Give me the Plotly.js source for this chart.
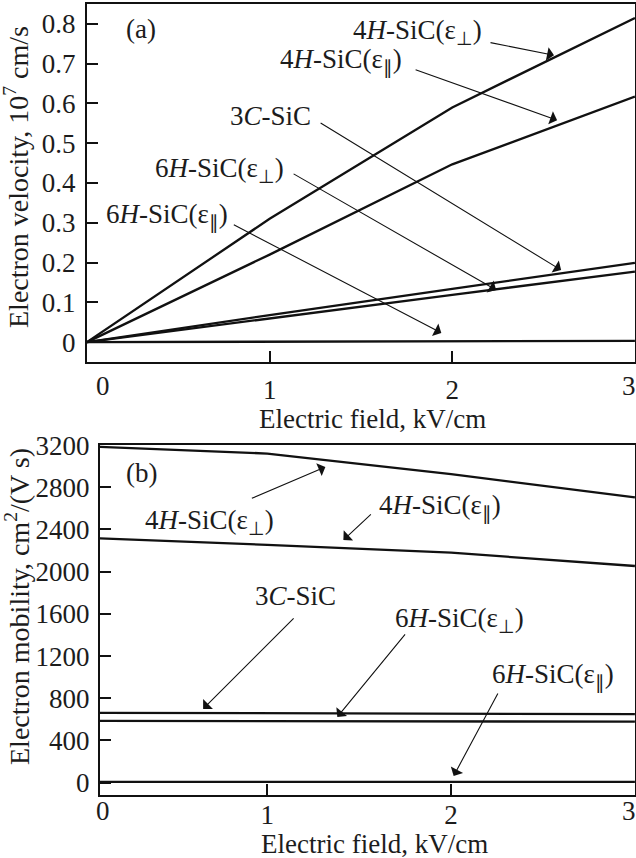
<!DOCTYPE html>
<html>
<head>
<meta charset="utf-8">
<script src="https://cdn.plot.ly/plotly-3.0.1.min.js"></script>
<style>
  html, body { margin: 0; padding: 0; background: #fff; }
  #chart { width: 636px; height: 858px; }
</style>
</head>
<body>
<div id="chart"></div>
<script>
// Electric field, kV/cm
const field = [0, 1, 2, 3];

// (a) Electron drift velocity, 10^7 cm/s
const v4Hperp = [0, 0.31, 0.59, 0.815];
const v4Hpar  = [0, 0.22, 0.447, 0.617];
const v3C     = [0, 0.068, 0.134, 0.199];
const v6Hperp = [0, 0.06, 0.119, 0.177];
const v6Hpar  = [0, 0.001, 0.002, 0.003];

// (b) Electron mobility, cm^2/(V s)
const mu4Hperp = [3190, 3120, 2925, 2705];
const mu4Hpar  = [2322, 2255, 2180, 2054];
const mu3C     = [662, 658, 654, 650];
const mu6Hperp = [586, 583, 580, 578];
const mu6Hpar  = [8, 8, 8, 8];

// Polytype labels
const lab4Hperp = '4<i>H</i>-SiC(ε<sub>⊥</sub>)';
const lab4Hpar  = '4<i>H</i>-SiC(ε<sub>∥</sub>)';
const lab3C     = '3<i>C</i>-SiC';
const lab6Hperp = '6<i>H</i>-SiC(ε<sub>⊥</sub>)';
const lab6Hpar  = '6<i>H</i>-SiC(ε<sub>∥</sub>)';

// Tick values; the end labels of the field axes sit beside the frame corners
const xTicks    = [1, 2, 3];
const xTickText = ['1', '2', ''];
const yTicksA = [0, 0.1, 0.2, 0.3, 0.4, 0.5, 0.6, 0.7, 0.8];
const yTicksB = [0, 400, 800, 1200, 1600, 2000, 2400, 2800, 3200];

const W = 636, H = 858;
const PX = p => p / W;          // pixel column -> paper x
const PY = p => 1 - p / H;      // pixel row -> paper y

const FONT = 'Liberation Serif, Times New Roman, serif';
const INK = '#1c1c1c';
const FS = 27;

function line(x, y, xa, ya) {
  return { x: x, y: y, xaxis: xa, yaxis: ya, mode: 'lines', type: 'scatter',
           line: { color: '#111', width: 2.3 }, hoverinfo: 'skip', showlegend: false };
}

const traces = [
  line(field, v4Hperp, 'x', 'y'),
  line(field, v4Hpar,  'x', 'y'),
  line(field, v3C,     'x', 'y'),
  line(field, v6Hperp, 'x', 'y'),
  line(field, v6Hpar,  'x', 'y'),
  line(field, mu4Hperp, 'x2', 'y2'),
  line(field, mu4Hpar,  'x2', 'y2'),
  line(field, mu3C,     'x2', 'y2'),
  line(field, mu6Hperp, 'x2', 'y2'),
  line(field, mu6Hpar,  'x2', 'y2')
];

const axisCommon = {
  showgrid: false, zeroline: false, showline: true, mirror: true,
  linecolor: '#111', linewidth: 2,
  ticks: 'inside', ticklen: 11, tickwidth: 2, tickcolor: '#111',
  tickfont: { family: FONT, size: FS, color: INK },
  ticklabeloverflow: 'allow',
  automargin: false, fixedrange: true
};

// text label (no arrow) in paper coordinates
function label(text, cx, cy, size) {
  return { text: text, xref: 'paper', yref: 'paper', x: PX(cx), y: PY(cy),
           xanchor: 'center', yanchor: 'middle', showarrow: false,
           font: { family: FONT, size: size || FS, color: INK } };
}
// arrow pointing at a curve, head in data coordinates, tail offset in pixels
function arrow(xa, ya, x, y, ax, ay) {
  return { text: '', xref: xa, yref: ya, x: x, y: y, ax: ax, ay: ay,
           showarrow: true, arrowhead: 1, arrowsize: 2.1, arrowwidth: 1.1,
           arrowcolor: '#111', standoff: 0, startstandoff: 0 };
}

const annotations = [
  // panel (a)
  label('(a)', 141, 29),
  label(lab4Hperp, 417, 32),
  label(lab4Hpar, 341, 62),
  label(lab3C, 270, 116),
  label(lab6Hperp, 219, 170),
  label(lab6Hpar, 167, 216),
  arrow('x', 'y', 2.557, 0.721, -65, -13),
  arrow('x', 'y', 2.574, 0.558, -143, -51),
  arrow('x', 'y', 2.596, 0.181, -242, -148),
  arrow('x', 'y', 2.240, 0.131, -204, -117),
  arrow('x', 'y', 1.940, 0.023, -209, -109),
  // panel (b)
  label('(b)', 141, 473),
  label(lab4Hperp, 209, 522),
  label(lab4Hpar, 440, 507),
  label(lab3C, 295, 596),
  label(lab6Hperp, 459, 620),
  label(lab6Hpar, 553, 676),
  arrow('x2', 'y2', 1.316, 2993, -75, 32),
  arrow('x2', 'y2', 1.414, 2300, 29, -27),
  arrow('x2', 'y2', 0.651, 699, 92, -92),
  arrow('x2', 'y2', 1.381, 623, 69, -84),
  arrow('x2', 'y2', 2.014, 64, 45, -84),
  // end labels of the field axes
  label('0', 103, 386),
  label('3', 629, 386),
  label('0', 103, 811),
  label('3', 629, 811),
  // axis titles
  label('Electric field, kV/cm', 372, 419),
  label('Electric field, kV/cm', 374, 844),
  Object.assign(label('Electron velocity, 10<sup>7</sup> cm/s', 17, 177, 28), { textangle: -90 }),
  Object.assign(label('Electron mobility, cm<sup>2</sup>/(V s)', 17, 607, 28), { textangle: -90 })
];

const layout = {
  width: W, height: H,
  margin: { l: 0, r: 0, t: 0, b: 0, pad: 0 },
  paper_bgcolor: '#fff', plot_bgcolor: '#fff',
  font: { family: FONT, size: FS, color: INK },
  showlegend: false,
  xaxis: Object.assign({}, axisCommon, {
    domain: [PX(87), PX(635)], anchor: 'y', range: [0, 3.0005],
    tickvals: xTicks, ticktext: xTickText, ticklabelstandoff: 3
  }),
  yaxis: Object.assign({}, axisCommon, {
    domain: [PY(362), PY(4)], anchor: 'x', range: [-0.05, 0.85],
    tickvals: yTicksA, ticklabelstandoff: 4
  }),
  xaxis2: Object.assign({}, axisCommon, {
    domain: [PX(100), PX(635)], anchor: 'y2', range: [0.09, 3.0005],
    tickvals: xTicks, ticktext: xTickText, ticklabelstandoff: -5
  }),
  yaxis2: Object.assign({}, axisCommon, {
    domain: [PY(795), PY(445)], anchor: 'x2', range: [-117, 3201],
    tickvals: yTicksB, ticklabelstandoff: 3
  }),
  annotations: annotations
};

Plotly.newPlot('chart', traces, layout, { staticPlot: true, displayModeBar: false });
</script>
</body>
</html>
